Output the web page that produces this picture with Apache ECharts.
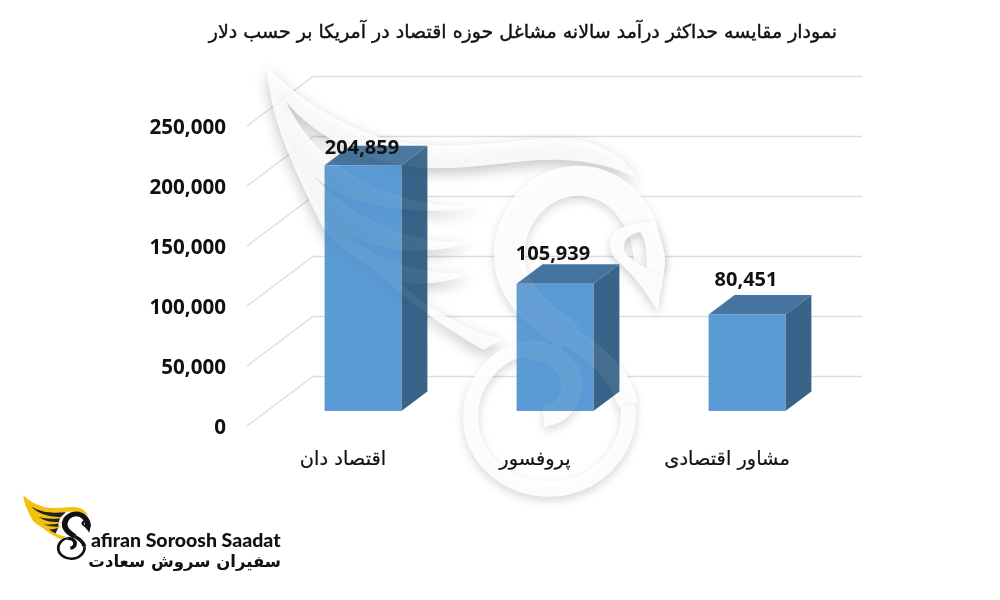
<!DOCTYPE html>
<html><head><meta charset="utf-8">
<style>html,body{margin:0;padding:0;background:#fff}#c{width:1000px;height:600px}</style>
<script src="https://cdn.jsdelivr.net/npm/echarts@6/dist/echarts.min.js"></script>
</head><body><div id="c"></div>
<script>
const categories = ['اقتصاد دان', 'پروفسور', 'مشاور اقتصادی'];
const salaries = [204859, 105939, 80451];
const yTicks = [0, 50000, 100000, 150000, 200000, 250000];
const titleText = 'نمودار مقایسه حداکثر درآمد سالانه مشاغل حوزه اقتصاد در آمریکا بر حسب دلار';
const labelShift = [[-1, -17], [-2, -30], [-1, -34]];

// bird mark (shared by the watermark and the logo)
const wingPath = 'M50,30 C60,180 110,300 220,520 C270,590 340,620 380,650 C450,720 570,810 700,885 L760,850 C700,840 650,820 610,795 C560,770 500,730 450,680 C520,695 600,680 665,655 C560,660 400,640 295,535 C360,585 520,610 665,560 C520,570 330,520 180,350 C260,450 480,490 700,455 C520,460 240,410 108,140 C200,250 370,340 560,340 C700,340 820,310 940,315 C1040,320 1120,345 1165,375 C1120,300 1040,245 900,250 C740,260 600,290 420,255 C260,210 130,120 50,30 Z';
const wingGaps = 'M108,140 L560,345 L800,345 L700,455 L665,560 L665,655 L610,795 L450,680 L295,535 L180,350 Z';
const neckPath = 'M1200,640 C1195,490 1110,378 985,378 C860,378 778,490 778,600 C778,720 880,790 960,845';
const bendPath = 'M960,845 C1060,910 1120,980 1134,1050';
const ringPath = 'M1134,1050 C1150,1190 1030,1303 900,1303 C770,1303 662,1210 662,1085 C662,970 760,880 830,885';
const spiralPath = 'M830,885 C910,885 965,930 965,990 C965,1040 930,1080 880,1085';
const beakPath = 'M1245,600 C1245,680 1228,700 1225,770 C1185,710 1160,670 1110,625 C1075,595 1070,560 1095,530 C1125,505 1190,500 1215,500 Z M1190,640 C1190,590 1190,560 1170,530 C1130,540 1115,565 1125,590 C1140,615 1165,625 1190,640 Z';

function birdGroup(place, wing, line, beak, under) {
  const strokes = [[neckPath, 92], [bendPath, 62], [ringPath, 45], [spiralPath, 62]].map(s => (
    {type:'path', shape:{pathData:s[0]}, style:Object.assign({fill:'none', lineCap:'butt', lineWidth:s[1] * (place.thick || 1)}, line)}
  ));
  const kids = (under ? [{type:'path', shape:{pathData:wingGaps}, style:under}] : [])
    .concat([{type:'path', shape:{pathData:wingPath}, style:wing}], strokes,
            [{type:'path', shape:{pathData:beakPath}, style:beak}]);
  return {type:'group', x:place.x, y:place.y, scaleX:place.sx, scaleY:place.sy, children:kids};
}
function birdSeries(z, place, wing, line, beak, under) {
  return {type:'custom', coordinateSystem:'none', z:z, silent:true, data:[[0]],
    renderItem:function () { return birdGroup(place, wing, line, beak, under); }};
}

const wm = {x:250, y:55, sx:1/3, sy:1/3};
const logo = {x:21.5, y:495.5, sx:0.0555, sy:0.0485, thick:1.1};

const chart = echarts.init(document.getElementById('c'), null, {renderer:'canvas'});

function renderWall(params, api) {
  const p = api.coord([0, api.value(1)]);
  const left = p[0] - api.size([1, 0])[0] / 2;
  return {type:'polyline', shape:{points:[[left, p[1]], [left + 66, p[1] - 49.5], [862, p[1] - 49.5]]},
    style:{fill:'none', stroke:'#dedede', lineWidth:1.3}};
}
function renderBar(params, api) {
  const top = api.coord([api.value(0), api.value(1)]);
  const base = api.coord([api.value(0), 0]);
  const w = api.size([1, 0])[0] * 0.4, cx = top[0] + 20, dx = 26, dy = 19.5;
  const x0 = cx - w / 2, x1 = cx + w / 2, yt = top[1] - 15, yb = base[1] - 15;
  return {type:'group', children:[
    {type:'polygon', shape:{points:[[x1,yt],[x1+dx,yt-dy],[x1+dx,yb-dy],[x1,yb]]}, style:{fill:'#386489'}},
    {type:'polygon', shape:{points:[[x0,yt],[x0+dx,yt-dy],[x1+dx,yt-dy],[x1,yt]]}, style:{fill:'#44749f'}},
    {type:'rect', shape:{x:x0, y:yt, width:w, height:yb-yt}, style:{fill:'#5b9bd5'}},
    {type:'group',
     clipPath:{type:'polygon', shape:{points:[[x0,yt],[x0+dx,yt-dy],[x1+dx,yt-dy],[x1+dx,yb-dy],[x1,yb],[x0,yb]]}},
     children:[birdGroup(wm,
       {fill:'rgba(255,255,255,0.06)', shadowBlur:14, shadowColor:'rgba(0,20,50,0.65)', shadowOffsetY:5},
       {stroke:'rgba(255,255,255,0.07)', shadowBlur:8, shadowColor:'rgba(0,20,50,0.3)', shadowOffsetY:3},
       {fill:'rgba(255,255,255,0.07)'})]}
  ]};
}
function renderValue(params, api) {
  const top = api.coord([api.value(0), api.value(1)]);
  const s = labelShift[params.dataIndex];
  return {type:'text', style:{text:echarts.format.addCommas(api.value(1)), x:top[0] + 20 + s[0], y:top[1] - 15 + s[1],
    align:'center', verticalAlign:'middle', fill:'#111', font:'bold 20px "Open Sans"'}};
}

chart.setOption({
  animation:false,
  backgroundColor:'#fff',
  title:{text:titleText, left:518, top:19, textAlign:'center',
    textStyle:{fontFamily:'DejaVu Sans', fontSize:19, fontWeight:'normal', color:'#111', textBorderColor:'#111', textBorderWidth:0.4}},
  grid:{left:247, top:126, width:576, height:300},
  xAxis:{type:'category', data:categories, z:8, axisLine:{show:false}, axisTick:{show:false}, splitLine:{show:false},
    axisLabel:{margin:24, fontFamily:'DejaVu Sans', fontSize:19.4, color:'#111', textBorderColor:'#111', textBorderWidth:0.2}},
  yAxis:{type:'value', min:0, max:250000, interval:50000, axisLine:{show:false}, axisTick:{show:false}, splitLine:{show:false},
    axisLabel:{margin:21, fontFamily:'Open Sans', fontWeight:'bold', fontSize:20.6, color:'#111', verticalAlign:'top', lineHeight:4}},
  series:[
    {type:'custom', name:'wall', z:1, silent:true, renderItem:renderWall, data:yTicks.map(v => [0, v]), encode:{x:0, y:1}},
    birdSeries(2, wm,
      {fill:'rgba(255,255,255,0.85)', shadowBlur:14, shadowColor:'rgba(0,0,0,0.27)', shadowOffsetY:5},
      {stroke:'rgba(255,255,255,0.9)', shadowBlur:10, shadowColor:'rgba(0,0,0,0.17)', shadowOffsetY:4},
      {fill:'rgba(255,255,255,0.9)', shadowBlur:10, shadowColor:'rgba(0,0,0,0.2)', shadowOffsetY:4}),
    {type:'custom', name:'bars', z:5, renderItem:renderBar, data:salaries.map((v, i) => [i, v]), encode:{x:0, y:1}},
    {type:'custom', name:'values', z:7, renderItem:renderValue, data:salaries.map((v, i) => [i, v]), encode:{x:0, y:1}},
    birdSeries(9, logo,
      {fill:'#f4c20d', stroke:'#f4c20d', lineWidth:26},
      {stroke:'#111'},
      {fill:'#111'},
      {fill:'#222'})
  ],
  graphic:[
    {type:'text', z:9, x:91, y:541, style:{text:'afiran Soroosh Saadat', font:'900 19.5px Lato', fill:'#111', verticalAlign:'middle', align:'left'}},
    {type:'text', z:9, x:281, y:563, style:{text:'سفیران سروش سعادت', font:'bold 16.5px "DejaVu Sans"', fill:'#111', verticalAlign:'middle', align:'right'}}
  ]
});
</script></body></html>
